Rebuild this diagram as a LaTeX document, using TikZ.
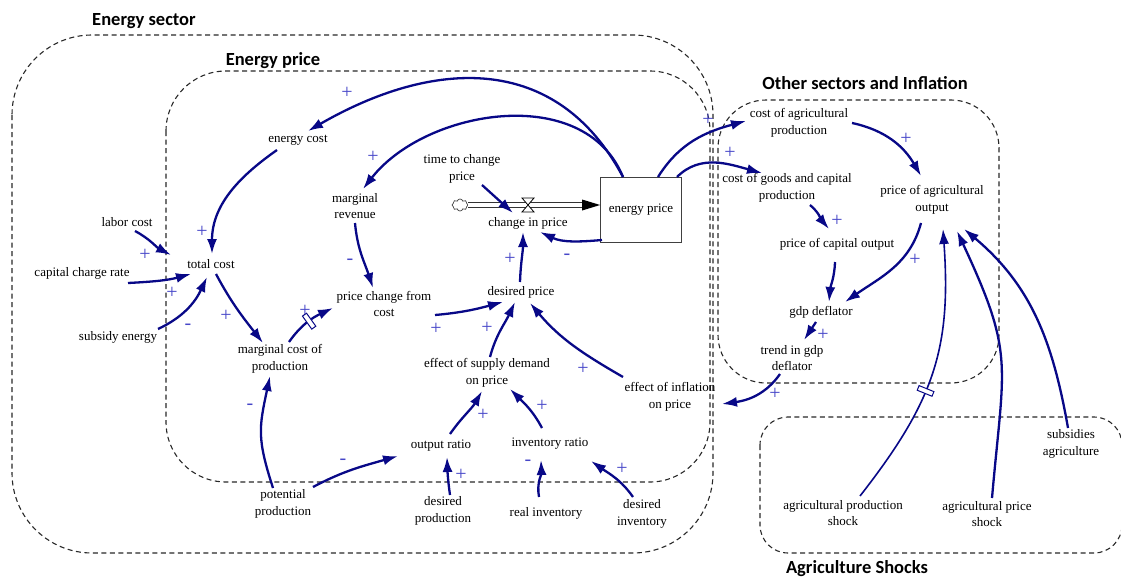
\documentclass[tikz,border=0pt]{standalone}
\usepackage{fontspec}
\setmainfont{Liberation Serif}
\newfontfamily\lblfont{Liberation Serif}
\newfontfamily\headfont{Carlito}
\usetikzlibrary{arrows.meta,shapes.symbols}
\definecolor{linkblue}{RGB}{8,8,135}
\definecolor{signblue}{RGB}{70,70,200}
\definecolor{grpgray}{RGB}{40,40,40}
\begin{document}
\begin{tikzpicture}[x=1pt,y=-1pt,
  lbl/.style={font=\lblfont\fontsize{13}{16.5}\selectfont, align=center, inner sep=0pt, text=black},
  ttl/.style={font=\headfont\bfseries\fontsize{18.5}{20}\selectfont, inner sep=0pt},
  grp/.style={draw=grpgray, dash pattern=on 5pt off 3.5pt, line width=1.1pt},
  link/.style={draw=linkblue, line width=2.3pt, -{Latex[length=15pt,width=10pt]}},
  sgn/.style={text=signblue, font=\lblfont\fontsize{20}{20}\selectfont, inner sep=0pt},
  delaymark/.style={sloped, rectangle, draw=linkblue, fill=white, line width=1pt, minimum width=5pt, minimum height=16pt, inner sep=0pt},
  stockbox/.style={draw=black!75, line width=0.8pt, minimum width=81pt, minimum height=65pt}
]
\useasboundingbox (0,0) rectangle (1121,578);

% group frames
\draw[grp, rounded corners=80pt] (12,35) rectangle (713,553);
\draw[grp, rounded corners=60pt] (166,71) rectangle (710,482);
\draw[grp, rounded corners=48pt] (718,100) rectangle (999,383);
\draw[grp, rounded corners=28pt] (760,417) rectangle (1122,553);

% titles
\node[ttl] (t1) at (144,21) {Energy sector};
\node[ttl] (t2) at (273,61) {Energy price};
\node[ttl] (t3) at (865,83) {Other sectors and Inflation};
\node[ttl] (t4) at (857,569) {Agriculture Shocks};

% variables
\node[lbl] (ec)   at (298,140) {energy cost};
\node[lbl] (mr)   at (355,206) {marginal\\revenue};
\node[lbl] (tcp)  at (462,169) {time to change\\price};
\node[lbl] (cip)  at (528,223) {change in price};
\node[lbl, stockbox] (ep) at (641,210) {energy price};
\node[lbl] (lab)  at (127,222) {labor cost};
\node[lbl] (ccr)  at (82,273) {capital charge rate};
\node[lbl] (tc)   at (211,264) {total cost};
\node[lbl] (se)   at (118,337) {subsidy energy};
\node[lbl] (mcp)  at (280,359) {marginal cost of\\production};
\node[lbl] (pcc)  at (384,304) {price change from\\cost};
\node[lbl] (dp)   at (521,292) {desired price};
\node[lbl] (esd)  at (487,373) {effect of supply demand\\on price};
\node[lbl] (ei)   at (670,397) {effect of inflation\\on price};
\node[lbl] (orat) at (441,446) {output ratio};
\node[lbl] (ir)   at (550,444) {inventory ratio};
\node[lbl] (pp)   at (283,504) {potential\\production};
\node[lbl] (dprod) at (443,511) {desired\\production};
\node[lbl] (ri)   at (546,513) {real inventory};
\node[lbl] (dinv) at (642,514) {desired\\inventory};
\node[lbl] (cap)  at (799,123) {cost of agricultural\\production};
\node[lbl] (cgc)  at (787,188) {cost of goods and capital\\production};
\node[lbl] (pao)  at (932,200) {price of agricultural\\output};
\node[lbl] (pco)  at (837,244) {price of capital output};
\node[lbl] (gdp)  at (821,312) {gdp deflator};
\node[lbl] (tgdp) at (792,358) {trend in gdp\\deflator};
\node[lbl] (sa)   at (1071,444) {subsidies\\agriculture};
\node[lbl] (aps)  at (843,513) {agricultural production\\shock};
\node[lbl] (apsh) at (987,514) {agricultural price\\shock};

% flow (pipe, cloud, valve)
\node[cloud, cloud puffs=8, aspect=1.4, draw=black!75, line width=0.7pt, minimum width=16pt, minimum height=12pt, inner sep=0pt] (cl) at (460,205) {};
\draw[black!80, line width=1pt, double=white, double distance=3.5pt] (cl.east) -- ([xshift=-15pt]ep.west |- cl.east);
\fill[black] (ep.west |- cl.east) -- ++(-18,-5.5) -- ++(0,11) -- cycle;
\node[inner sep=0pt, minimum size=14pt] (valve) at (528,205) {};
\filldraw[fill=white, draw=black, line width=0.8pt] ([shift={(-6,-7)}]valve.center) -- ([shift={(6,-7)}]valve.center) -- ([shift={(-6,7)}]valve.center) -- ([shift={(6,7)}]valve.center) -- cycle;

% links
\draw[link] ([shift={(-18,-33)}]ep.center) to[out=118,in=30,looseness=1.15] ([shift={(10,-9)}]ec.center);
\draw[link] ([shift={(-18,-33)}]ep.center) to[out=112,in=52] ([shift={(8,-17)}]mr.center);
\draw[link] ([shift={(-21,10)}]ec.center) to[out=215,in=90] ([shift={(1,-10)}]tc.center);
\draw[link] ([shift={(8,9)}]lab.center) to[out=-28,in=152] ([shift={(-40,-9)}]tc.center);
\draw[link] ([shift={(46,10)}]ccr.center) to[out=3,in=195] ([shift={(-20,10)}]tc.center);
\draw[link] ([shift={(40,-8)}]se.center) to[out=25,in=245] ([shift={(-4,13)}]tc.center);
\draw[link] ([shift={(5,10)}]tc.center) to[out=-62,in=128] ([shift={(-17,-16)}]mcp.center);
\draw[link] ([shift={(0,17)}]mr.center) to[out=-85,in=108] ([shift={(-11,-16)}]pcc.center);
\draw[link] ([shift={(9,-17)}]mcp.center) to[out=55,in=205] node[delaymark,pos=0.52]{} ([shift={(-51,4)}]pcc.center);
\draw[link] ([shift={(-10,-16)}]pp.center) to[out=108,in=258,looseness=1.2] ([shift={(-10,17)}]mcp.center);
\draw[link] ([shift={(30,-17)}]pp.center) to[out=28,in=196] ([shift={(-43,10)}]orat.center);
\draw[link] ([shift={(7,-16)}]dprod.center) to[out=98,in=272] ([shift={(6,11)}]orat.center);
\draw[link] ([shift={(9,-12)}]orat.center) to[out=55,in=240] ([shift={(-5,18)}]esd.center);
\draw[link] ([shift={(-8,-16)}]ir.center) to[out=118,in=-45] ([shift={(23,16)}]esd.center);
\draw[link] ([shift={(-7,-16)}]ri.center) to[out=100,in=-88] ([shift={(-9,16)}]ir.center);
\draw[link] ([shift={(-9,-17)}]dinv.center) to[out=125,in=-35] ([shift={(41,17)}]ir.center);
\draw[link] ([shift={(51,11)}]pcc.center) to[out=5,in=195] ([shift={(-18,10)}]dp.center);
\draw[link] ([shift={(3,-16)}]esd.center) to[out=75,in=245] ([shift={(-6,10)}]dp.center);
\draw[link] ([shift={(-47,-20)}]ei.center) to[out=150,in=-50] ([shift={(9,11)}]dp.center);
\draw[link] ([shift={(-1,-10)}]dp.center) to[out=88,in=-90] ([shift={(-5,9)}]cip.center);
\draw[link] ([shift={(-39,30)}]ep.center) to[out=185,in=-25] ([shift={(12,9)}]cip.center);
\draw[link] ([shift={(20,16)}]tcp.center) -- ([shift={(-15,-10)}]cip.center);
\draw[link] ([shift={(17,-33)}]ep.center) to[out=58,in=195] ([shift={(-53,-2)}]cap.center);
\draw[link] ([shift={(36,-33)}]ep.center) to[out=45,in=165] ([shift={(-25,-15)}]cgc.center);
\draw[link] ([shift={(53,0)}]cap.center) to[out=-12,in=120] ([shift={(-11,-24)}]pao.center);
\draw[link] ([shift={(23,17)}]cgc.center) to[out=-40,in=130] ([shift={(-8,-15)}]pco.center);
\draw[link] ([shift={(-2,18)}]pco.center) to[out=-92,in=85] ([shift={(8,-10)}]gdp.center);
\draw[link] ([shift={(-11,23)}]pao.center) to[out=-105,in=35] ([shift={(24,-10)}]gdp.center);
\draw[link] ([shift={(-5,10)}]gdp.center) -- ([shift={(12,-18)}]tgdp.center);
\draw[link] ([shift={(-12,16)}]tgdp.center) to[out=235,in=8] ([shift={(52,7)}]ei.center);
\draw[link, line width=1.6pt] ([shift={(17,-17)}]aps.center) to[out=52,in=-86,looseness=1.1] node[delaymark,pos=0.42]{} ([shift={(11,29)}]pao.center);
\draw[link] ([shift={(5,-16)}]apsh.center) to[out=85,in=-65,looseness=1.3] ([shift={(25,31)}]pao.center);
\draw[link] ([shift={(-3,-16)}]sa.center) to[out=100,in=-40] ([shift={(32,29)}]pao.center);

% polarity signs
\node[sgn] (s1)  at (347,93)  {+};
\node[sgn] (s2)  at (373,157) {+};
\node[sgn] (s3)  at (202,232) {+};
\node[sgn] (s4)  at (145,255) {+};
\node[sgn] (s5)  at (172,293) {+};
\node[sgn] (s6)  at (188,327) {-};
\node[sgn] (s7)  at (226,316) {+};
\node[sgn] (s8)  at (350,262) {-};
\node[sgn] (s9)  at (305,311) {+};
\node[sgn] (s10) at (250,407) {-};
\node[sgn] (s11) at (343,462) {-};
\node[sgn] (s12) at (461,475) {+};
\node[sgn] (s13) at (483,415) {+};
\node[sgn] (s14) at (542,406) {+};
\node[sgn] (s15) at (528,463) {-};
\node[sgn] (s16) at (622,469) {+};
\node[sgn] (s17) at (436,329) {+};
\node[sgn] (s18) at (487,328) {+};
\node[sgn] (s19) at (583,369) {+};
\node[sgn] (s20) at (510,259) {+};
\node[sgn] (s21) at (567,257) {-};
\node[sgn] (s23) at (708,120) {+};
\node[sgn] (s24) at (730,153) {+};
\node[sgn] (s25) at (906,139) {+};
\node[sgn] (s26) at (837,221) {+};
\node[sgn] (s28) at (915,260) {+};
\node[sgn] (s29) at (823,335) {+};
\node[sgn] (s30) at (775,394) {+};
\end{tikzpicture}
\end{document}
